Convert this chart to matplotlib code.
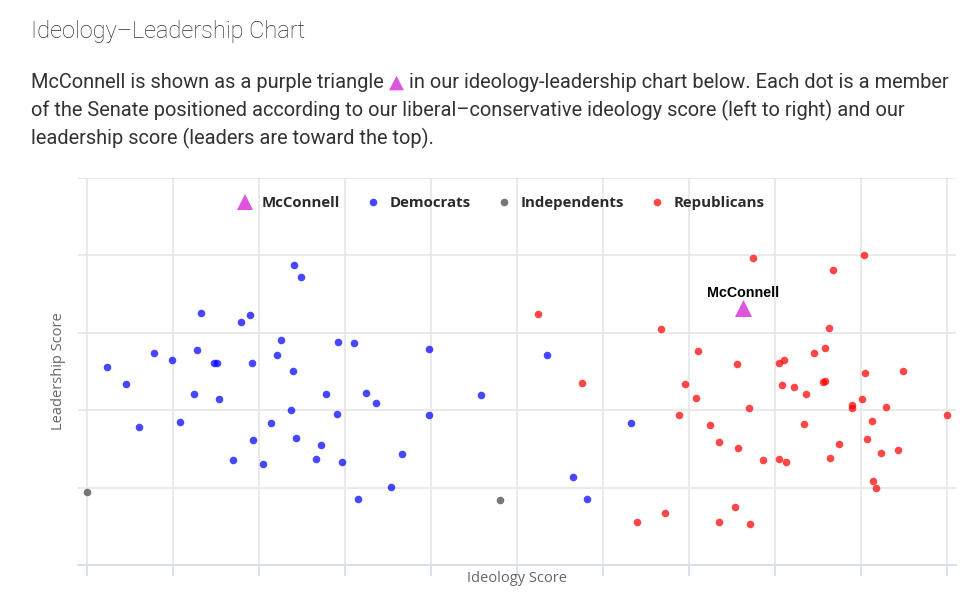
import numpy as np
import matplotlib
matplotlib.use("Agg")
import matplotlib.pyplot as plt
from matplotlib.lines import Line2D

# ideology (0 = liberal, 1 = conservative) and leadership scores
dem_x = [0.241, 0.2485, 0.132, 0.179, 0.189, 0.225, 0.292, 0.310, 0.398, 0.023,
         0.045, 0.078, 0.099, 0.128, 0.148, 0.151, 0.192, 0.221, 0.239, 0.124,
         0.153, 0.278, 0.324, 0.336, 0.458, 0.061, 0.108, 0.237, 0.291, 0.398,
         0.214, 0.193, 0.243, 0.272, 0.170, 0.205, 0.266, 0.297, 0.366, 0.353,
         0.315, 0.535, 0.633, 0.565, 0.581]
dem_y = [0.774, 0.745, 0.652, 0.629, 0.645, 0.581, 0.577, 0.574, 0.558, 0.512,
         0.468, 0.549, 0.529, 0.555, 0.523, 0.523, 0.523, 0.542, 0.501, 0.442,
         0.429, 0.442, 0.445, 0.419, 0.439, 0.357, 0.370, 0.400, 0.390, 0.387,
         0.368, 0.322, 0.328, 0.309, 0.271, 0.261, 0.274, 0.267, 0.287, 0.202,
         0.171, 0.543, 0.368, 0.228, 0.171]

ind_x = [0.0, 0.480]
ind_y = [0.189, 0.168]

rep_x = [0.525, 0.775, 0.904, 0.868, 0.667, 0.863, 0.711, 0.756, 0.805, 0.810,
         0.845, 0.858, 0.905, 0.949, 0.576, 0.695, 0.808, 0.822, 0.856, 0.858,
         0.836, 0.708, 0.770, 0.688, 0.890, 0.890, 0.901, 0.929, 1.000, 0.913,
         0.834, 0.725, 0.735, 0.757, 0.907, 0.874, 0.923, 0.943, 0.786, 0.805,
         0.813, 0.864, 0.914, 0.917, 0.640, 0.672, 0.735, 0.754, 0.771]
rep_y = [0.649, 0.794, 0.800, 0.761, 0.610, 0.613, 0.552, 0.519, 0.523, 0.529,
         0.549, 0.561, 0.497, 0.501, 0.471, 0.468, 0.465, 0.459, 0.472, 0.475,
         0.442, 0.432, 0.406, 0.387, 0.413, 0.406, 0.429, 0.409, 0.387, 0.371,
         0.364, 0.361, 0.319, 0.302, 0.326, 0.313, 0.290, 0.296, 0.271, 0.274,
         0.267, 0.277, 0.216, 0.200, 0.112, 0.135, 0.112, 0.151, 0.106]

mcc_x = 0.763
mcc_y = 0.663

title = "Ideology\u2013Leadership Chart"
para_a = "McConnell is shown as a purple triangle"
para_b = "in our ideology-leadership chart below. Each dot is a member"
para_2 = "of the Senate positioned according to our liberal\u2013conservative ideology score (left to right) and our"
para_3 = "leadership score (leaders are toward the top)."

W, H = 980, 599
fig = plt.figure(figsize=(W / 100, H / 100), dpi=100)
text_col = "#333333"
purple = "#dd55dd"
psize = 14.4

def fy(py):
    return 1 - py / H

fig.text(31 / W, fy(38), title, family="Roboto", weight="light", size=17, color="#2e2e2e")

ta = fig.text(31 / W, fy(88), para_a, family="Roboto", size=psize, color=text_col)
tri = fig.text(0, 0, "\u25B2", family="DejaVu Sans", size=14, color=purple)
tb = fig.text(0, 0, para_b, family="Roboto", size=psize, color=text_col)
fig.text(31 / W, fy(116), para_2, family="Roboto", size=psize, color=text_col)
fig.text(31 / W, fy(144), para_3, family="Roboto", size=psize, color=text_col)

# chain the inline triangle after the first piece of text
fig.canvas.draw()
r = fig.canvas.get_renderer()
bb = ta.get_window_extent(r)
tri.set_position(((bb.x1 + 5) / W, fy(88)))
bb2 = tri.get_window_extent(r)
tb.set_position(((bb2.x1 + 5) / W, fy(88)))

ax = fig.add_axes([78 / W, 34 / H, 878 / W, 387 / H])

ax.scatter(dem_x, dem_y, s=30, color="blue", alpha=0.72, linewidths=0, zorder=3)
ax.scatter(ind_x, ind_y, s=30, color="#777777", linewidths=0, zorder=3)
ax.scatter(rep_x, rep_y, s=30, color="red", alpha=0.72, linewidths=0, zorder=3)
ax.scatter([mcc_x], [mcc_y], s=150, marker="^", color=purple, linewidths=0, zorder=4)
ax.annotate("McConnell", xy=(mcc_x, mcc_y), xytext=(0, 11), textcoords="offset points",
            ha="center", va="center", family="Liberation Sans", weight="bold",
            size=10.3, color="black", zorder=5)

ax.set_xlim(-0.0105, 1.0105)
ax.set_ylim(0, 1)
ax.set_xticks(np.arange(0, 1.01, 0.1))
ax.set_yticks(np.arange(0, 1.01, 0.2))
ax.set_xticklabels([])
ax.set_yticklabels([])
ax.tick_params(axis="x", length=8, width=1.2, color="#d3dcea", direction="out")
ax.tick_params(axis="y", length=0)
ax.grid(color="#e6e6e6", linewidth=1.2)
ax.set_axisbelow(True)
for side in ["top", "right", "left"]:
    ax.spines[side].set_visible(False)
ax.spines["bottom"].set_color("#d3dcea")
ax.spines["bottom"].set_linewidth(1.2)

fig.text(517 / W, fy(578), "Ideology Score", ha="center", va="center",
         family="Open Sans", size=10.5, color="#666666")
fig.text(58 / W, fy(371), "Leadership Score", ha="center", va="center", rotation=90,
         family="Open Sans", size=10.5, color="#666666")

handles = [
    Line2D([], [], marker="^", linestyle="none", markersize=11, color=purple, markeredgewidth=0),
    Line2D([], [], marker="o", linestyle="none", markersize=5.5, color="blue", alpha=0.72, markeredgewidth=0),
    Line2D([], [], marker="o", linestyle="none", markersize=5.5, color="#777777", markeredgewidth=0),
    Line2D([], [], marker="o", linestyle="none", markersize=5.5, color="red", alpha=0.72, markeredgewidth=0),
]
labels = ["McConnell", "Democrats", "Independents", "Republicans"]
leg = ax.legend(handles, labels, loc="center", bbox_to_anchor=(0.4818, 0.935), ncol=4,
                frameon=False, handlelength=1.0, handletextpad=0.62, columnspacing=1.7,
                prop={"family": "Open Sans", "weight": "bold", "size": 10.8})
for t in leg.get_texts():
    t.set_color("#2b2b2b")

fig.savefig("out.png", dpi=100)
